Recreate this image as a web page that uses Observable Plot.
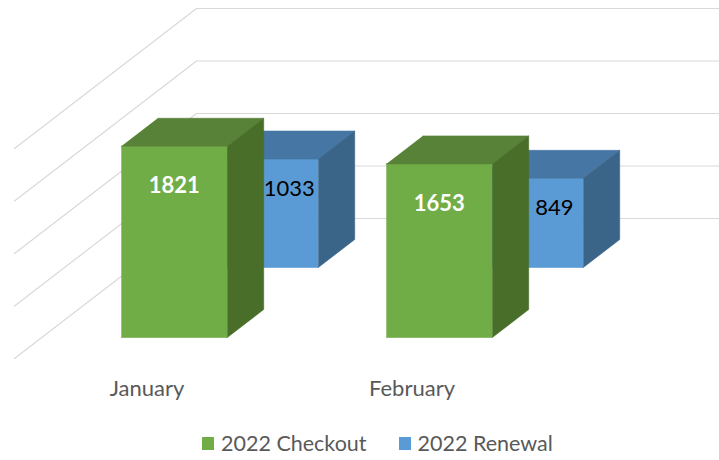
<!DOCTYPE html>
<html>
<head>
<meta charset="utf-8">
<script src="https://cdn.jsdelivr.net/npm/d3@7"></script>
<script src="https://cdn.jsdelivr.net/npm/@observablehq/plot@0.6"></script>
<style>
  body { margin: 0; background: #fff; font-family: Lato, "Open Sans", sans-serif; }
  #wrap { position: relative; width: 719px; height: 460px; overflow: hidden; }
  #legend { position: absolute; left: 202px; top: 430px; display: flex; align-items: center; font-size: 21.5px; color: #595959; white-space: nowrap; }
  .sw { display: inline-block; width: 12px; height: 13px; margin-right: 7px; }
  .item { display: flex; align-items: center; margin-right: 32px; }
</style>
</head>
<body>
<div id="wrap"><div id="chart"></div><div id="legend"></div></div>
<script>
// ---- data ----
const months = ["January", "February"];
const seriesNames = ["2022 Checkout", "2022 Renewal"];
const checkout = [1821, 1653];
const renewal = [1033, 849];
const gridTicks = [0, 500, 1000, 1500, 2000];

// ---- style / geometry ----
const palette = {
  "2022 Checkout": {front: "#70AD47", top: "#578237", side: "#496E2A", label: "#ffffff", weight: "bold"},
  "2022 Renewal": {front: "#5B9BD5", top: "#4676A3", side: "#3A6488", label: "#000000", weight: "normal"}
};
const DX = 182 / 265;          // depth shift in x (category units)
const DV = 140 / 0.105;        // depth shift in value units
const halfW = 0.2;             // half bar width
const depthRows = [0.15, 0.65]; // front of each series row (fraction of depth)
const rowDepth = 0.2;

const proj = (X, V, t) => ({x: X + t * DX, y: V + t * DV});

const values = [checkout, renewal];
const faces = [];
const labels = [];
// draw back series first
for (let s = seriesNames.length - 1; s >= 0; s--) {
  const name = seriesNames[s];
  const c = palette[name];
  months.forEach((m, i) => {
    const v = values[s][i];
    const x0 = i + 0.5 - halfW, x1 = i + 0.5 + halfW;
    const t0 = depthRows[s], t1 = t0 + rowDepth;
    const add = (face, fill, pts) => pts.forEach(p => faces.push({id: `${name}-${m}-${face}`, fill, ...p}));
    add("front", c.front, [proj(x0, 0, t0), proj(x1, 0, t0), proj(x1, v, t0), proj(x0, v, t0)]);
    add("top", c.top, [proj(x0, v, t0), proj(x1, v, t0), proj(x1, v, t1), proj(x0, v, t1)]);
    add("side", c.side, [proj(x1, 0, t0), proj(x1, 0, t1), proj(x1, v, t1), proj(x1, v, t0)]);
    const p = proj(i + 0.5, v, t0);
    labels.push({...p, text: String(v), fill: c.label, weight: c.weight, s});
  });
}

const grid = [];
gridTicks.forEach(v => {
  [proj(0, v, 0), proj(0, v, 1), proj(months.length, v, 1)].forEach(p => grid.push({id: v, ...p}));
});

const monthRows = months.map((m, i) => ({x: i + 0.5, y: 0, m}));

const chart = Plot.plot({
  width: 719,
  height: 420,
  margin: 0,
  x: {domain: [0, 2], range: [14, 544], axis: null},
  y: {domain: [0, 2000], range: [358, 148], axis: null},
  color: {type: "identity"},
  style: {fontFamily: "Lato, sans-serif", background: "#fff", overflow: "hidden"},
  marks: [
    Plot.line(grid, {x: "x", y: "y", z: "id", stroke: "#d9d9d9", strokeWidth: 1.2, curve: "linear"}),
    Plot.line(faces, {x: "x", y: "y", z: "id", fill: "fill", stroke: "fill", strokeWidth: 0.6, curve: "linear"}),
    Plot.text(labels.filter(d => d.s === 0), {x: "x", y: "y", text: "text", fill: "fill", fontWeight: "bold", fontSize: 22, dy: 40}),
    Plot.text(labels.filter(d => d.s === 1), {x: "x", y: "y", text: "text", fill: "fill", fontSize: 22, dy: 30, dx: 24}),
    Plot.text(monthRows, {x: "x", y: "y", text: "m", fill: "#595959", fontSize: 22, dy: 30})
  ]
});
document.getElementById("chart").appendChild(chart);

const legend = document.getElementById("legend");
seriesNames.forEach(n => {
  const it = document.createElement("div");
  it.className = "item";
  const sw = document.createElement("span");
  sw.className = "sw";
  sw.style.background = palette[n].front;
  it.appendChild(sw);
  it.appendChild(document.createTextNode(n));
  legend.appendChild(it);
});
</script>
</body>
</html>
